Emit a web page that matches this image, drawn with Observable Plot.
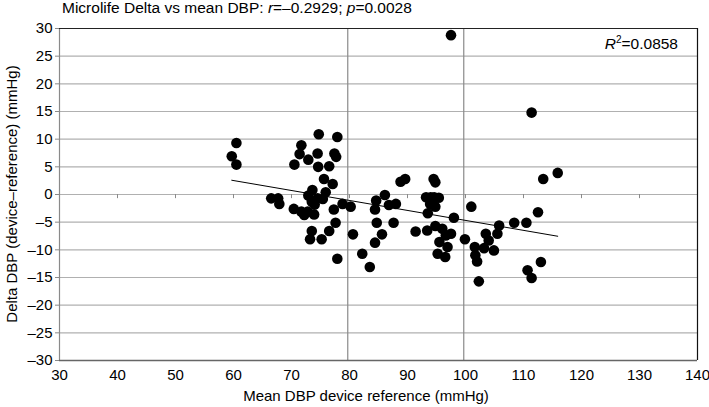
<!DOCTYPE html>
<html><head><meta charset="utf-8">
<script src="https://cdn.jsdelivr.net/npm/d3@7"></script>
<script src="https://cdn.jsdelivr.net/npm/@observablehq/plot@0.6"></script>
<style>body{margin:0;background:#fff;font-family:"Liberation Sans",Arial,sans-serif}</style>
</head><body><div id="chart"></div>
<script>
const meanDBP = [59.7,60.5,60.5,66.5,67.7,67.9,70.4,71.7,72.2,72.8,73.9,70.5,71.7,71.4,72.9,74.5,74.7,77.9,77.4,77.7,
  74.6,76.5,75.6,77.1,73.6,75.9,72.9,73.5,74.0,74.5,75.4,77.3,78.8,80.2,77.6,73.5,73.2,75.2,76.5,80.6,
  77.9,82.2,83.5,84.6,84.4,86.1,86.8,88.0,84.7,87.6,85.6,84.4,88.8,89.6,91.4,94.5,94.8,93.2,94.0,94.6,
  95.4,93.9,94.8,93.5,98.0,101.0,93.4,94.8,96.0,96.6,97.5,95.5,96.9,95.2,96.5,99.9,101.6,101.7,102.0,103.5,
  104.0,103.2,104.9,105.5,105.8,108.4,110.5,112.5,102.3,110.7,111.4,113.0,113.4,115.9,111.4,97.5];
const deltaDBP = [6.9,9.3,5.4,-0.7,-0.7,-1.7,-2.6,-3.1,-3.7,-3.1,-3.6,5.4,8.9,7.3,6.3,7.4,10.9,10.4,7.4,6.8,
  5.0,5.1,2.8,1.9,0.8,0.4,-0.2,-1.3,-1.8,-0.7,-0.8,-2.7,-1.7,-2.2,-5.1,-6.6,-8.1,-8.1,-6.6,-7.2,
  -11.6,-10.7,-13.1,-1.1,-2.7,-0.1,-1.9,-1.7,-5.1,-5.1,-7.2,-8.7,2.3,2.8,-6.7,2.8,2.2,-0.5,-0.5,-0.5,
  -0.6,-1.7,-2.2,-3.4,-4.2,-2.2,-6.5,-5.7,-6.2,-7.4,-7.1,-8.6,-9.5,-10.7,-11.3,-8.1,-9.5,-11.0,-12.1,-7.1,
  -8.3,-9.7,-10.1,-7.1,-5.6,-5.1,-5.1,-3.2,-15.7,-13.7,-15.1,-12.2,2.8,3.9,14.8,28.8];
const xTicks = [30,40,50,60,70,80,90,100,110,120,130,140];
const yTicks = [-30,-25,-20,-15,-10,-5,0,5,10,15,20,25,30];
const cutLines = [79.7, 99.7];
const titleText = ["Microlife Delta vs mean DBP: ", "r", "=–0.2929; ", "p", "=0.0028"];
const r2Text = ["R", "2", "=0.0858"];
const xLabel = "Mean DBP device reference (mmHg)";
const yLabel = "Delta DBP (device–reference) (mmHg)";

const data = meanDBP.map((x, i) => ({x, y: deltaDBP[i]}));
const fmt = d => d < 0 ? "–" + (-d) : String(d);

const plot = Plot.plot({
  width: 709, height: 407,
  marginLeft: 59, marginRight: 12, marginTop: 28, marginBottom: 47,
  style: {fontFamily: "'Liberation Sans', Arial, sans-serif", fontSize: "15px", background: "white", color: "#000"},
  x: {domain: [30, 140]},
  y: {domain: [-30, 30]},
  marks: [
    Plot.ruleY(yTicks.filter(d => d > -30 && d < 30), {stroke: "#b0b0b0", strokeWidth: 1.2}),
    Plot.ruleX(cutLines, {stroke: "#8a8a8a", strokeWidth: 1.2}),
    Plot.ruleX(xTicks.slice(1, -1), {y1: 0, y2: -0.75, stroke: "#8a8a8a"}),
    Plot.ruleX([30], {stroke: "#8a8a8a", strokeWidth: 1.2}),
    Plot.ruleX([140], {stroke: "#111", strokeWidth: 1.2}),
    Plot.ruleY([30], {stroke: "#222", strokeWidth: 1.2}),
    Plot.ruleY([-30], {stroke: "#666", strokeWidth: 1.5}),
    Plot.axisY({ticks: yTicks, tickSize: 4, tickPadding: 3, tickFormat: fmt, stroke: "#8a8a8a", label: null, fontSize: 15}),
    Plot.axisX({ticks: xTicks, tickSize: 0, tickPadding: 9, tickFormat: fmt, label: null, fontSize: 15}),
    Plot.linearRegressionY(data, {x: "x", y: "y", stroke: "#000", strokeWidth: 1, ci: 0}),
    Plot.dot(data, {x: "x", y: "y", r: 5.3, fill: "#000", stroke: null})
  ]
});
document.getElementById("chart").append(plot);

const svg = d3.select(plot);
const xs = plot.scale("x"), ys = plot.scale("y");
const ff = "'Liberation Sans', Arial, sans-serif";
const t = svg.append("text").attr("x", 62).attr("y", 12.5).attr("text-anchor", "start").attr("font-size", 15.5).attr("font-family", ff).attr("fill", "#000");
titleText.forEach((s, i) => t.append("tspan").attr("font-style", i === 1 || i === 3 ? "italic" : "normal").text(s));

const r2 = svg.append("text").attr("x", 678).attr("y", 49).attr("text-anchor", "end").attr("font-size", 15.5).attr("font-family", ff).attr("fill", "#000");
r2.append("tspan").attr("font-style", "italic").text(r2Text[0]);
r2.append("tspan").attr("font-size", 10).attr("dy", -6).text(r2Text[1]);
r2.append("tspan").attr("dy", 6).text(r2Text[2]);

svg.append("text").attr("x", 366).attr("y", 401).attr("text-anchor", "middle")
  .attr("font-size", 15).attr("font-family", ff).attr("fill", "#000").text(xLabel);
svg.append("text").attr("transform", `translate(13,${(ys.apply(30) + ys.apply(-30)) / 2}) rotate(-90)`)
  .attr("text-anchor", "middle").attr("dominant-baseline", "middle")
  .attr("font-size", 15).attr("font-family", ff).attr("fill", "#000").text(yLabel);
</script></body></html>
